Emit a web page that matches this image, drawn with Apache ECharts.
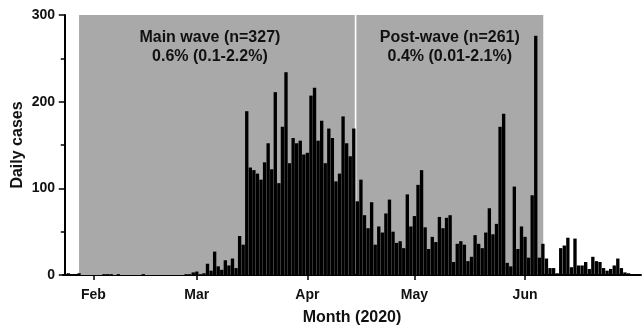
<!DOCTYPE html>
<html><head><meta charset="utf-8">
<script src="https://cdn.jsdelivr.net/npm/echarts@6/dist/echarts.min.js"></script>
<style>html,body{margin:0;padding:0;background:#fff}#c{width:643px;height:329px}</style>
</head><body><div id="c"></div>
<script>
// Day 0 = 24 Jan 2020, one value per day up to 3 Jul 2020
const startDate = '2020-01-24';
const janCases = [0, 2, 0, 0, 2, 0, 0, 0];
const febCases = [0, 0, 0, 1, 1, 1, 0, 1, 0, 0, 0, 0, 0, 0, 1, 0, 0, 0, 0, 0, 0, 0, 0, 0, 0, 0, 1, 1, 3];
const marCases = [4, 1, 2, 13, 5, 27, 10, 6, 17, 11, 19, 8, 45, 35, 189, 124, 121, 117, 110, 130, 152, 122, 211, 106, 171, 234, 129, 158, 152, 155, 139];
const aprCases = [141, 207, 216, 155, 178, 129, 169, 158, 108, 117, 183, 152, 137, 169, 85, 110, 69, 54, 84, 35, 56, 49, 71, 87, 50, 37, 39, 31, 93, 56];
const mayCases = [68, 104, 121, 55, 30, 44, 38, 67, 54, 66, 69, 15, 36, 39, 35, 16, 21, 46, 36, 31, 49, 77, 47, 59, 171, 186, 14, 10, 102, 30, 56];
const junCases = [44, 20, 92, 276, 20, 36, 19, 8, 8, 2, 31, 34, 43, 9, 42, 11, 11, 15, 7, 21, 16, 15, 8, 5, 7, 11, 19, 8, 3, 2];
const julCases = [1, 1, 1];
const cases = [].concat(janCases, febCases, marCases, aprCases, mayCases, junCases, julCases);

const monthTickDays = [8, 37, 68, 98, 129];
const monthLabels = ['Feb', 'Mar', 'Apr', 'May', 'Jun'];

const mainWaveDays = [4, 81.27];
const postWaveDays = [81.73, 134.1];
const mainWaveText = 'Main wave (n=327)\n0.6% (0.1-2.2%)';
const postWaveText = 'Post-wave (n=261)\n0.4% (0.01-2.1%)';

const FONT = "'Liberation Sans', Arial, sans-serif";
const chart = echarts.init(document.getElementById('c'), null, {renderer: 'canvas'});
const labelStyle = {show: true, position: 'insideTop', distance: 13, color: '#111', fontFamily: FONT,
  fontWeight: 'bold', fontSize: 16, lineHeight: 19, align: 'center'};

chart.setOption({
  animation: false,
  grid: {left: 63, top: 15, width: 578, height: 260, containLabel: false, outerBoundsMode: 'none'},
  xAxis: {
    type: 'value', min: -0.5, max: cases.length - 0.5,
    splitLine: {show: false},
    axisLine: {show: true, onZero: false, lineStyle: {color: '#000', width: 2}},
    axisTick: {show: true, customValues: monthTickDays, length: 5, lineStyle: {color: '#000', width: 1.5}},
    axisLabel: {customValues: monthTickDays, margin: 13, color: '#111', fontFamily: FONT, fontWeight: 'bold', fontSize: 14,
      formatter: v => monthLabels[monthTickDays.indexOf(Math.round(v))] || ''},
    name: 'Month (2020)', nameLocation: 'middle', nameGap: 35, nameMoveOverlap: false,
    nameTextStyle: {color: '#111', fontFamily: FONT, fontWeight: 'bold', fontSize: 16}
  },
  yAxis: {
    type: 'value', min: 0, max: 300, interval: 100,
    splitLine: {show: false},
    axisLine: {show: true, lineStyle: {color: '#000', width: 2}},
    axisTick: {show: true, length: 6, lineStyle: {color: '#000', width: 1.5}},
    minorTick: {show: true, splitNumber: 2, length: 4, lineStyle: {color: '#000', width: 1.5}},
    axisLabel: {margin: 8, color: '#111', fontFamily: FONT, fontWeight: 'bold', fontSize: 14},
    name: 'Daily cases', nameLocation: 'middle', nameGap: 37, nameMoveOverlap: false,
    nameTextStyle: {color: '#111', fontFamily: FONT, fontWeight: 'bold', fontSize: 16}
  },
  series: [{
    type: 'bar',
    data: cases.map((v, i) => [i, v]),
    barWidth: 3.35,
    itemStyle: {color: '#000'},
    z: 2,
    markArea: {
      silent: true,
      z: 1,
      itemStyle: {color: '#a9a9a9'},
      data: [
        [{xAxis: mainWaveDays[0], yAxis: 0, label: Object.assign({}, labelStyle, {formatter: mainWaveText, offset: [-7, 0]})},
         {xAxis: mainWaveDays[1], yAxis: 300}],
        [{xAxis: postWaveDays[0], yAxis: 0, label: Object.assign({}, labelStyle, {formatter: postWaveText})},
         {xAxis: postWaveDays[1], yAxis: 300}]
      ]
    }
  }]
});
</script></body></html>
